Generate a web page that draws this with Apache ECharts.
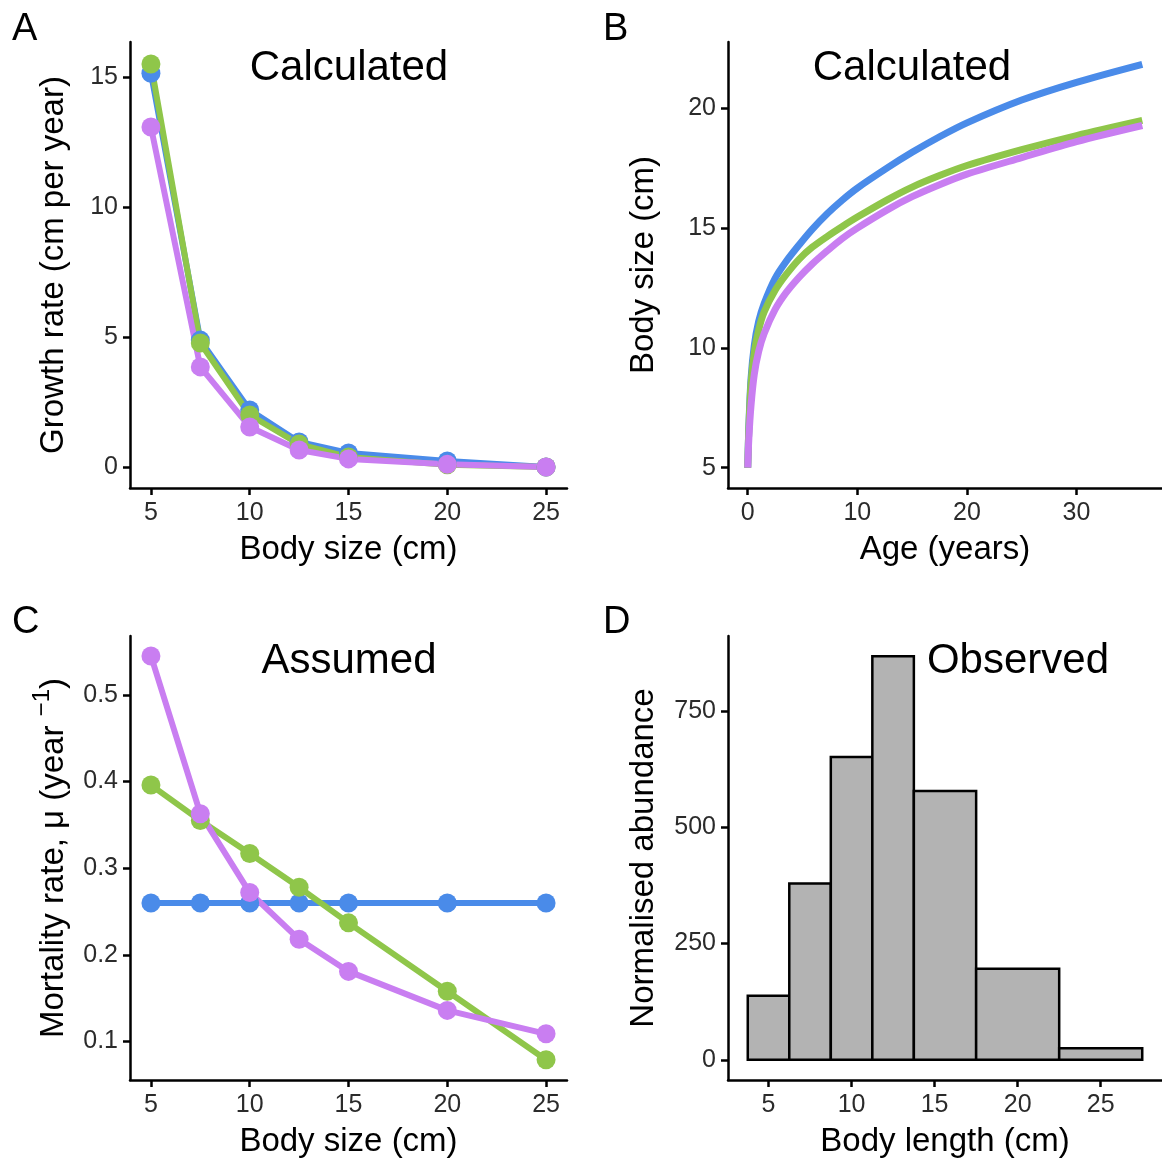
<!DOCTYPE html>
<html>
<head>
<meta charset="utf-8">
<script src="https://cdn.jsdelivr.net/npm/echarts@6/dist/echarts.min.js"></script>
<style>html,body{margin:0;padding:0;background:#fff}#c{width:1162px;height:1162px}</style>
</head>
<body>
<div id="c"></div>
<script>
// Panel A: growth rate vs body size
const sizeClasses = [5, 7.5, 10, 12.5, 15, 20, 25];
const growthBlue   = [15.15, 4.88, 2.19, 0.96, 0.54, 0.23, 0.0];
const growthGreen  = [15.5, 4.77, 2.0, 0.88, 0.38, 0.08, 0.0];
const growthPurple = [13.08, 3.85, 1.54, 0.65, 0.31, 0.10, 0.0];

// Panel B: body size vs age
const ages       = [0, 0.1, 0.3, 0.6, 1.0, 1.5, 2.5, 3.5, 4.7, 5.9, 7.27, 8.6, 10, 12.73, 15, 17.5, 20, 25, 30, 36];
const sizeBlue   = [5.0, 6.7, 8.7, 10.1, 11.1, 11.85, 12.9, 13.6, 14.3, 14.95, 15.6, 16.15, 16.66, 17.5, 18.15, 18.8, 19.38, 20.33, 21.07, 21.82];
const sizeGreen  = [5.0, 6.6, 8.5, 9.8, 10.75, 11.5, 12.4, 13.05, 13.7, 14.2, 14.65, 15.05, 15.45, 16.17, 16.7, 17.18, 17.6, 18.26, 18.85, 19.48];
const sizePurple = [5.0, 6.2, 7.6, 8.9, 9.85, 10.6, 11.6, 12.3, 12.95, 13.5, 14.05, 14.55, 14.99, 15.75, 16.3, 16.8, 17.24, 17.93, 18.6, 19.27];

// Panel C: mortality vs body size
const mortBlue   = [0.26, 0.26, 0.26, 0.26, 0.26, 0.26, 0.26];
const mortGreen  = [0.396, 0.355, 0.317, 0.278, 0.237, 0.158, 0.079];
const mortPurple = [0.545, 0.363, 0.272, 0.218, 0.181, 0.136, 0.109];

// Panel D: histogram
const binEdges  = [3.75, 6.25, 8.75, 11.25, 13.75, 17.5, 22.5, 27.5];
const abundance = [138, 379, 651, 868, 578, 196, 25];

// Tick labels
const ticksA_x = [5, 10, 15, 20, 25];
const ticksA_y = [0, 5, 10, 15];
const ticksB_x = [0, 10, 20, 30];
const ticksB_y = [5, 10, 15, 20];
const ticksC_y = [0.1, 0.2, 0.3, 0.4, 0.5];
const ticksD_x = [5, 10, 15, 20, 25];
const ticksD_y = [0, 250, 500, 750];

const BLUE = '#4a8be9', GREEN = '#8fc64a', PURPLE = '#c97ef1';
const FONT = 'Liberation Sans, Arial, sans-serif';

function axis(opts) {
  return {
    type: 'value',
    gridIndex: opts.grid,
    min: opts.min, max: opts.max,
    name: opts.name,
    nameLocation: 'middle',
    nameGap: opts.gap,
    nameTextStyle: Object.assign({fontSize: 33, color: '#000', fontFamily: FONT}, opts.nameStyle || {}),
    splitLine: {show: false},
    axisLine: {show: true, onZero: false, lineStyle: {color: '#000', width: 2.5}},
    axisTick: {show: true, length: 7, lineStyle: {color: '#000', width: 2.5}, customValues: opts.ticks},
    axisLabel: {fontSize: 25, color: '#2b2b2b', fontFamily: FONT, margin: opts.margin, customValues: opts.ticks},
  };
}

function pts(xs, ys) { return xs.map((x, i) => [x, ys[i]]); }

function lineSeries(xi, yi, data, color, withSymbol) {
  return {
    type: 'line', xAxisIndex: xi, yAxisIndex: yi, data: data,
    symbol: withSymbol ? 'circle' : 'none', symbolSize: 19,
    smooth: withSymbol ? false : 0.3,
    lineStyle: {color: color, width: withSymbol ? 6 : 7, join: 'round', cap: 'butt'},
    itemStyle: {color: color},
    showSymbol: withSymbol, z: 2
  };
}

const histData = abundance.map((v, i) => [binEdges[i], binEdges[i + 1], v]);

const chart = echarts.init(document.getElementById('c'), null, {renderer: 'canvas'});
chart.setOption({
  animation: false,
  backgroundColor: '#fff',
  textStyle: {fontFamily: FONT},
  grid: [
    {left: 130, top: 42, width: 437, height: 446},
    {left: 728, top: 42, width: 434, height: 446},
    {left: 130, top: 636, width: 437, height: 444},
    {left: 728, top: 636, width: 434, height: 444}
  ],
  xAxis: [
    axis({grid: 0, min: 3.94, max: 26.06, ticks: ticksA_x, name: 'Body size (cm)', gap: 45, margin: 13}),
    axis({grid: 1, min: -1.8, max: 37.8, ticks: ticksB_x, name: 'Age (years)', gap: 45, margin: 13}),
    axis({grid: 2, min: 3.94, max: 26.06, ticks: ticksA_x, name: 'Body size (cm)', gap: 45, margin: 13}),
    axis({grid: 3, min: 2.56, max: 28.69, ticks: ticksD_x, name: 'Body length (cm)', gap: 45, margin: 13})
  ],
  yAxis: [
    axis({grid: 0, min: -0.81, max: 16.35, ticks: ticksA_y, name: 'Growth rate (cm per year)', gap: 60, margin: 12}),
    axis({grid: 1, min: 4.155, max: 22.75, ticks: ticksB_y, name: 'Body size (cm)', gap: 68, margin: 12}),
    axis({grid: 2, min: 0.0557, max: 0.568, ticks: ticksC_y, name: '{a|Mortality rate, μ (year }{s|−1}{a|)}', gap: 60, margin: 12,
      nameStyle: {rich: {a: {fontSize: 33, color: '#000', fontFamily: FONT, lineHeight: 40, verticalAlign: 'bottom'},
                         s: {fontSize: 24, color: '#000', fontFamily: FONT, lineHeight: 40, verticalAlign: 'top'}}}}),
    axis({grid: 3, min: -43.4, max: 911.4, ticks: ticksD_y, name: 'Normalised abundance', gap: 68, margin: 12})
  ],
  series: [
    lineSeries(0, 0, pts(sizeClasses, growthBlue), BLUE, true),
    lineSeries(0, 0, pts(sizeClasses, growthGreen), GREEN, true),
    lineSeries(0, 0, pts(sizeClasses, growthPurple), PURPLE, true),
    lineSeries(1, 1, pts(ages, sizeBlue), BLUE, false),
    lineSeries(1, 1, pts(ages, sizeGreen), GREEN, false),
    lineSeries(1, 1, pts(ages, sizePurple), PURPLE, false),
    lineSeries(2, 2, pts(sizeClasses, mortBlue), BLUE, true),
    lineSeries(2, 2, pts(sizeClasses, mortGreen), GREEN, true),
    lineSeries(2, 2, pts(sizeClasses, mortPurple), PURPLE, true),
    {
      type: 'custom', xAxisIndex: 3, yAxisIndex: 3, data: histData,
      encode: {x: [0, 1], y: 2},
      renderItem: function (params, api) {
        const p0 = api.coord([api.value(0), 0]);
        const p1 = api.coord([api.value(1), api.value(2)]);
        return {type: 'rect', shape: {x: p0[0], y: p1[1], width: p1[0] - p0[0], height: p0[1] - p1[1]},
                style: {fill: '#b3b3b3', stroke: '#000', lineWidth: 2.5}};
      }
    }
  ],
  graphic: [
    {type: 'text', left: 12, top: 11, style: {text: 'A', fontSize: 38, fill: '#000', fontFamily: FONT}},
    {type: 'text', left: 603, top: 11, style: {text: 'B', fontSize: 38, fill: '#000', fontFamily: FONT}},
    {type: 'text', left: 12, top: 604, style: {text: 'C', fontSize: 38, fill: '#000', fontFamily: FONT}},
    {type: 'text', left: 603, top: 604, style: {text: 'D', fontSize: 38, fill: '#000', fontFamily: FONT}},
    {type: 'text', x: 349, y: 68, style: {text: 'Calculated', fontSize: 42, fill: '#000', fontFamily: FONT, align: 'center', verticalAlign: 'middle'}},
    {type: 'text', x: 912, y: 68, style: {text: 'Calculated', fontSize: 42, fill: '#000', fontFamily: FONT, align: 'center', verticalAlign: 'middle'}},
    {type: 'text', x: 349, y: 661, style: {text: 'Assumed', fontSize: 42, fill: '#000', fontFamily: FONT, align: 'center', verticalAlign: 'middle'}},
    {type: 'text', x: 1018, y: 661, style: {text: 'Observed', fontSize: 42, fill: '#000', fontFamily: FONT, align: 'center', verticalAlign: 'middle'}}
  ]
});
</script>
</body>
</html>
